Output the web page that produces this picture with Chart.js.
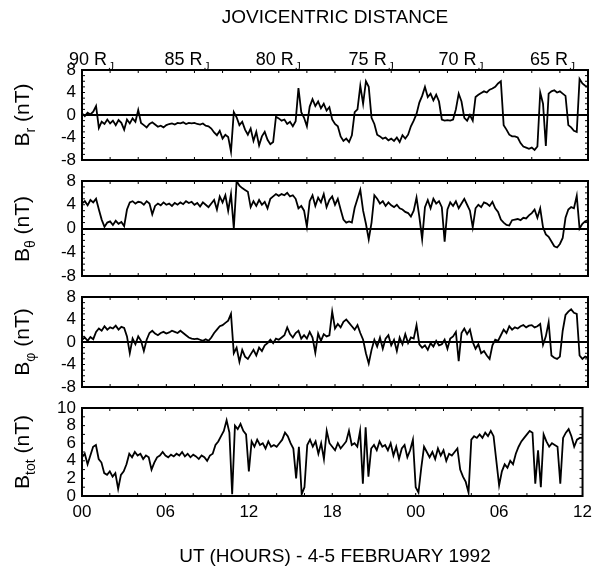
<!DOCTYPE html>
<html>
<head>
<meta charset="utf-8">
<script src="https://cdn.jsdelivr.net/npm/chart.js@4.4.0/dist/chart.umd.min.js"></script>
<style>
  body { margin: 0; background: #fff; }
  #wrap { position: relative; width: 598px; height: 568px; font-family: "Liberation Sans", Arial, sans-serif; color: #000; }
  canvas { position: absolute; left: 0; top: 0; }
  .title { position: absolute; left: 82px; width: 506px; text-align: center; font-size: 19px; white-space: nowrap; }
  .ytitle { position: absolute; left: 24px; font-size: 21px; white-space: nowrap; transform: translate(-50%, -50%) rotate(-90deg); }
  .ytitle sub { font-size: 14px; }
</style>
</head>
<body>
<div id="wrap">
  <canvas id="c1" width="598" height="568"></canvas>
  <canvas id="c2" width="598" height="568"></canvas>
  <canvas id="c3" width="598" height="568"></canvas>
  <canvas id="c4" width="598" height="568"></canvas>
  <div class="title" style="top:6px">JOVICENTRIC DISTANCE</div>
  <div class="title" style="top:545px">UT (HOURS) - 4-5 FEBRUARY 1992</div>
  <div class="ytitle" style="top:115px">B<sub>r</sub> (nT)</div>
  <div class="ytitle" style="top:229px">B<sub>θ</sub> (nT)</div>
  <div class="ytitle" style="top:342px">B<sub>φ</sub> (nT)</div>
  <div class="ytitle" style="top:452px">B<sub>tot</sub> (nT)</div>
</div>
<script>
// samples every 0.2 h from 00 UT on 4 Feb to 12 UT on 5 Feb
const HOUR_STEP = 0.2;
const hourLabels = ['00', '06', '12', '18', '00', '06', '12'];

// jovicentric distance marks on the top axis
const distLabels = [90, 85, 80, 75, 70, 65];
const distHours = [2.2, 9.0, 15.5, 22.1, 28.5, 35.0];

const br = [
  0.3, -0.2, 0.4, 0.1, 0.6,
  1.6, -2.3, -1.2, -1.6, -0.8,
  -1.5, -1.0, -1.8, -0.9, -1.4,
  -2.6, -0.8, -1.5, -0.6, -1.2,
  0.9, -1.4, -1.8, -2.2, -1.6,
  -1.3, -1.7, -2.1, -1.9, -2.2,
  -1.8, -1.6, -1.5, -1.7, -1.4,
  -1.5, -1.3, -1.6, -1.4, -1.5,
  -1.4, -1.6, -1.7, -1.5, -1.9,
  -2.0, -2.4, -3.1, -3.6, -2.8,
  -4.2, -3.5, -3.9, -6.5, 0.5,
  -0.4, -1.8, -1.2, -2.6, -3.5,
  -2.4, -4.6, -3.0, -5.4, -3.8,
  -3.0, -4.4, -5.2, -4.8, -0.3,
  -0.6, -1.0, -0.8, -1.6, -1.2,
  -2.0, -1.1, 4.8, 0.5, -0.5,
  -2.0, 1.5, 2.8, 1.6, 2.4,
  1.2, 2.0, 0.8, 1.4, -0.8,
  -1.6, -2.0, -3.8, -4.6, -4.2,
  -4.8, -3.6, 0.5, 1.0, 5.2,
  2.0, 6.0, 5.0, -0.5, -1.6,
  -3.5, -3.8, -4.2, -4.0, -4.5,
  -4.2, -4.6, -4.0, -4.8, -3.6,
  -4.2, -3.5, -2.0, -1.0, 0.2,
  2.2, 3.4, 5.0, 3.2, 3.8,
  2.6, 3.6, 2.4, -0.8, -1.0,
  -0.9, -1.0, -0.8, 1.0, 3.8,
  2.4, -0.5, -1.0, 0.0, -1.0,
  3.2, 3.6, 3.9, 4.2, 4.0,
  4.5, 4.7, 5.0, 5.6, 6.0,
  -1.8, -2.6, -3.5, -3.8, -3.8,
  -4.0, -5.0, -5.6, -5.8, -6.0,
  -5.8, -6.2, -5.6, 4.0, 2.0,
  -5.5, 3.8, 4.2, 4.4, 4.0,
  4.2, 3.8, 3.4, -1.8, -2.2,
  -2.8, -3.0, 6.4, 5.6, 5.2,
  5.0
];

const btheta = [
  4.2, 4.6, 3.9, 4.8, 4.4,
  5.0, 3.2, 1.5, 0.3, 1.0,
  1.2, 0.6, 1.3, 0.8, 1.1,
  0.4, 3.2, 4.4, 4.6, 4.2,
  4.5, 4.4, 4.0, 4.6, 4.2,
  2.4, 3.8, 4.2, 3.9, 4.4,
  4.0, 4.2, 3.8, 4.3, 4.0,
  4.4, 4.1, 4.6, 4.3, 4.5,
  4.0, 4.3, 3.7, 4.4, 4.0,
  3.6, 4.2, 4.8, 3.2, 5.4,
  4.4, 5.6, 3.0, 5.8, 0.0,
  8.0, 7.2, 6.8, 6.5, 6.2,
  3.6, 4.6, 3.8, 4.8, 4.0,
  4.5, 3.4, 5.0, 5.4, 5.8,
  5.5, 5.8, 5.6, 6.0, 5.4,
  5.6, 5.0, 3.4, 3.8, 3.0,
  0.3, 4.6, 5.6, 3.8, 5.2,
  4.4, 5.8, 3.6, 4.8, 5.4,
  4.0, 5.0, 3.2, 1.5, 1.0,
  1.2, 1.0, 3.5, 5.0, 6.5,
  3.0, 0.8, -1.8, 1.0, 5.6,
  5.0, 4.2, 4.6, 3.8, 4.4,
  3.9, 3.6, 4.0, 3.4, 3.2,
  2.8, 2.6, 2.0, 3.0, 5.2,
  2.0, -1.8, 3.6, 4.8, 3.4,
  5.0, 4.2, 4.6, 3.6, -2.2,
  3.2, 4.4, 3.8, 4.6, 3.4,
  4.2, 5.0, 4.0, 3.0, 0.2,
  3.4, 4.0, 3.6, 4.4, 4.2,
  3.8, 4.5, 3.4, 2.8, 1.5,
  1.0, 0.6, 0.5, 1.4, 1.5,
  1.6, 1.4, 1.8, 1.7, 2.2,
  2.6, 3.2, 1.8, 3.4, 0.2,
  -1.0, -1.4, -2.2, -3.0, -3.2,
  -2.6, -1.6, 1.8, 3.2, 3.6,
  3.4, 5.5, 0.0, 0.8, 1.2,
  1.4
];

const bphi = [
  0.4, 0.8, 0.2, 0.9, 0.5,
  1.8, 2.4, 2.0, 2.8, 2.2,
  2.6, 2.4, 2.9, 2.2, 2.7,
  2.5, 1.0, -2.0, 0.6, -0.4,
  1.0, 0.2, -1.6, 0.4, 1.6,
  2.0, 1.5, 1.2, 1.6, 1.8,
  1.5, 1.7, 2.0, 1.8, 1.6,
  2.0, 1.6, 1.2, 0.8, 0.6,
  0.5, 0.6, 0.4, 0.2, 0.5,
  0.2, 0.8, 1.6, 2.2, 2.8,
  3.0, 3.4, 3.8, 5.0, -2.0,
  -1.0, -3.5, -1.4, -2.6, -3.0,
  -2.2, -1.4, -2.4, -1.0, -1.6,
  -0.6, -0.2, 0.4, -0.2, 0.6,
  0.4, 0.8, 1.2, 2.6, 1.4,
  0.8, 1.6, 2.0, 0.6, 1.2,
  0.6, 1.8, 0.8, -1.9, 1.5,
  0.2, 1.4, 1.0, 1.2, 5.4,
  2.4, 3.2, 2.6, 3.6, 4.0,
  3.4, 2.8, 2.2, 3.0, 1.6,
  0.4, -2.0, -3.8, -1.4, 0.4,
  -0.8, 0.8, -1.2, 0.6, 1.2,
  -0.6, 0.4, -1.6, 0.8, -0.4,
  1.4, -0.2, 0.8, 0.6, 3.0,
  -0.4, -1.0, -0.6, -1.4, -0.2,
  -0.8, 0.2, -0.6, -0.4, 0.4,
  -1.2, 0.6, 1.0, 1.8, -3.4,
  1.6, 2.4, 1.4, 2.2, 0.0,
  -1.2, -0.4, -2.0, -1.6, -2.4,
  -3.0, -0.6, 0.4, 0.2, 1.2,
  2.2, 1.6, 2.8, 2.2, 2.6,
  2.4, 2.8, 3.0, 2.6, 2.9,
  3.0, 2.6, 2.8, 3.2, -0.5,
  1.0, 3.5, -2.4, -2.8, -3.0,
  -2.6, 2.0, 4.8, 5.4, 5.8,
  5.2, 5.0, -2.4, -3.0, -2.6,
  -2.8
];

const btot = [
  4.4, 4.8, 3.6, 4.6, 5.6,
  5.8, 4.2, 3.8, 2.6, 2.4,
  2.8, 2.2, 2.6, 0.8, 2.4,
  2.8, 3.6, 4.8, 4.4, 5.0,
  4.6, 4.8, 4.2, 4.6, 4.4,
  3.0, 3.8, 4.4, 4.6, 5.0,
  4.6, 4.4, 4.7, 4.5, 4.8,
  4.6, 5.0, 4.5, 4.8, 4.4,
  4.7, 4.5, 4.2, 4.6, 4.4,
  4.0, 4.6, 4.8, 5.8, 6.2,
  6.8, 7.4, 8.6, 7.2, 0.2,
  8.0, 7.6, 8.2, 7.4, 7.0,
  2.8, 6.2, 5.6, 6.4, 5.8,
  6.0, 5.4, 6.2, 5.6, 5.8,
  5.6, 6.0, 6.4, 7.2, 6.8,
  6.0, 5.4, 2.0, 5.6, 0.2,
  1.0, 5.8, 6.4, 5.6, 6.2,
  4.8, 6.0, 4.2, 7.4, 6.0,
  5.6, 5.2, 6.0, 5.4, 5.8,
  6.2, 7.4, 5.8, 6.0, 5.6,
  7.4, 1.4, 7.8, 2.2, 5.4,
  5.8, 5.2, 6.2, 5.6, 5.8,
  5.2, 6.0, 4.6, 5.6, 4.2,
  5.4, 5.8, 4.4, 5.2, 6.4,
  1.0, 0.4, 3.2, 5.6, 5.0,
  4.4, 5.0, 4.2, 5.4, 4.6,
  5.2, 4.0, 4.8, 4.6, 5.0,
  5.4, 3.0, 2.2, 1.6, 0.4,
  6.4, 6.8, 6.6, 7.0, 6.6,
  7.2, 6.8, 7.4, 6.8, 4.0,
  1.2, 2.8, 3.6, 3.2, 4.0,
  3.6, 4.8, 5.6, 6.2, 6.6,
  7.0, 7.4, 7.2, 1.4, 5.2,
  1.0, 7.0, 6.2, 5.6, 6.0,
  5.8, 5.6, 1.4, 6.6, 7.2,
  7.6, 6.8, 5.6, 6.4, 6.6,
  6.6
];

const FONT = '"Liberation Sans", Arial, sans-serif';
const HOUR_AXIS_H = 30;

// box and inward minor ticks (1 nT, 2 h) drawn over the data
const framePlugin = {
  id: 'frame',
  afterDraw(chart) {
    const { ctx, chartArea: a, scales: { x, y } } = chart;
    ctx.save();
    ctx.strokeStyle = '#000';
    ctx.lineWidth = 1;
    ctx.beginPath();
    for (let v = y.min; v <= y.max; v += 1) {
      const py = y.getPixelForValue(v);
      ctx.moveTo(a.left, py); ctx.lineTo(a.left + 3, py);
      ctx.moveTo(a.right, py); ctx.lineTo(a.right - 3, py);
    }
    for (let h = 0; h <= 36; h += 2) {
      const px = x.getPixelForValue(h);
      ctx.moveTo(px, a.top); ctx.lineTo(px, a.top + 3);
      ctx.moveTo(px, a.bottom); ctx.lineTo(px, a.bottom - 3);
    }
    ctx.stroke();
    ctx.lineWidth = 2;
    ctx.strokeRect(a.left, a.top, a.right - a.left, a.bottom - a.top);
    ctx.restore();
  }
};

// "90 RJ" labels above the first panel
const distancePlugin = {
  id: 'distance',
  afterDraw(chart) {
    const { ctx, chartArea: a, scales: { x } } = chart;
    ctx.save();
    ctx.fillStyle = '#000';
    ctx.textAlign = 'right';
    ctx.textBaseline = 'alphabetic';
    distLabels.forEach((d, i) => {
      const px = x.getPixelForValue(distHours[i]);
      ctx.font = '18px ' + FONT;
      ctx.fillText(d + ' R', px - 6, a.top - 5);
      ctx.font = '11px ' + FONT;
      ctx.fillText('J', px + 1, a.top);
    });
    ctx.restore();
  }
};

function makePanel(id, values, top, bottom, yMin, yMax, yStep, showHours, extra) {
  const points = values.map((v, i) => ({ x: i * HOUR_STEP, y: v }));
  const axisH = showHours ? HOUR_AXIS_H : 0;
  return new Chart(document.getElementById(id), {
    type: 'line',
    data: {
      datasets: [{
        data: points,
        borderColor: '#000',
        borderWidth: 1.8,
        pointRadius: 0,
        tension: 0,
        fill: false
      }]
    },
    options: {
      responsive: false,
      animation: false,
      devicePixelRatio: 1,
      events: [],
      layout: { padding: { top: top, bottom: 568 - bottom - axisH, left: 0, right: 10 } },
      plugins: { legend: { display: false }, tooltip: { enabled: false } },
      scales: {
        x: {
          type: 'linear',
          min: 0,
          max: 36,
          afterFit: (axis) => { axis.height = axisH; },
          border: { display: false },
          grid: { display: false, drawTicks: false },
          ticks: {
            display: showHours,
            stepSize: 6,
            maxRotation: 0,
            autoSkip: false,
            padding: 6,
            color: '#000',
            font: { family: FONT, size: 17 },
            callback: (v) => hourLabels[v / 6]
          }
        },
        y: {
          min: yMin,
          max: yMax,
          afterFit: (axis) => { axis.width = 82; },
          border: { display: false },
          grid: {
            drawTicks: false,
            color: (c) => (c.tick.value === 0 ? '#000' : 'rgba(0,0,0,0)'),
            lineWidth: (c) => (c.tick.value === 0 ? 2 : 0)
          },
          ticks: {
            stepSize: yStep,
            autoSkip: false,
            padding: 6,
            color: '#000',
            font: { family: FONT, size: 17 }
          }
        }
      }
    },
    plugins: [framePlugin].concat(extra || [])
  });
}

makePanel('c1', br, 70, 160, -8, 8, 4, false, [distancePlugin]);
makePanel('c2', btheta, 181, 276, -8, 8, 4, false);
makePanel('c3', bphi, 297, 387, -8, 8, 4, false);
makePanel('c4', btot, 408, 496, 0, 10, 2, true);
</script>
</body>
</html>
